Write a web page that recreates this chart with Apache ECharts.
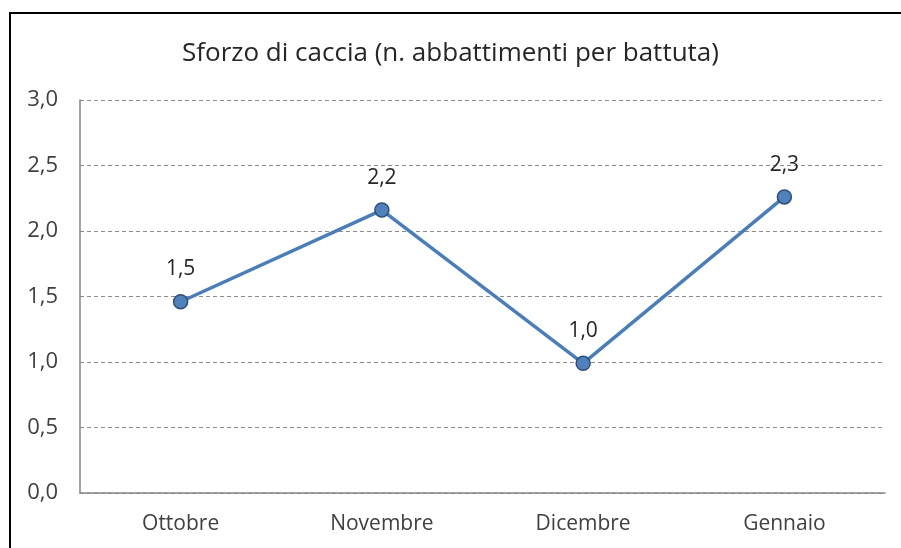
<!DOCTYPE html>
<html>
<head>
<meta charset="utf-8">
<script src="https://cdn.jsdelivr.net/npm/echarts@6/dist/echarts.min.js"></script>
<style>
html,body{margin:0;padding:0;background:#fff;}
#chart{width:901px;height:548px;}
</style>
</head>
<body>
<div id="chart"></div>
<script>
var months = ['Ottobre', 'Novembre', 'Dicembre', 'Gennaio'];
var sforzo = [1.46, 2.16, 0.99, 2.26];
var yTicks = [0, 0.5, 1, 1.5, 2, 2.5, 3];

function virgola(v){
    return v.toFixed(1).replace('.', ',');
}

var chart = echarts.init(document.getElementById('chart'));
chart.setOption({
    animation: false,
    title: {
        text: 'Sforzo di caccia (n. abbattimenti per battuta)',
        left: 'center',
        top: 36,
        textStyle: {
            fontFamily: 'Open Sans',
            fontWeight: 'normal',
            fontSize: 26,
            color: '#262626'
        }
    },
    graphic: [{
        type: 'rect',
        shape: {x: 10, y: 13, width: 1000, height: 1000},
        style: {fill: 'none', stroke: '#000', lineWidth: 2}
    }],
    grid: {
        left: 80,
        right: 16,
        top: 100,
        bottom: 55
    },
    xAxis: {
        type: 'category',
        data: months,
        axisLine: {lineStyle: {color: '#868686', width: 1.5}},
        axisTick: {show: false},
        axisLabel: {
            fontFamily: 'Open Sans',
            fontSize: 21,
            color: '#404040',
            margin: 21
        }
    },
    yAxis: {
        type: 'value',
        min: yTicks[0],
        max: yTicks[yTicks.length - 1],
        interval: 0.5,
        axisLine: {show: true, lineStyle: {color: '#868686', width: 1.5}},
        axisTick: {show: false},
        splitLine: {lineStyle: {color: '#8c8c8c', type: [4, 3], width: 1}},
        axisLabel: {
            fontFamily: 'Open Sans',
            fontSize: 22,
            color: '#404040',
            margin: 22,
            formatter: function(v){ return virgola(v); }
        }
    },
    series: [{
        type: 'line',
        data: sforzo,
        symbol: 'circle',
        symbolSize: 14,
        lineStyle: {color: '#4a7ebb', width: 3.5},
        itemStyle: {color: '#4f81bd', borderColor: '#2f4f78', borderWidth: 1.5},
        label: {
            show: true,
            position: 'top',
            distance: 14,
            fontFamily: 'Open Sans',
            fontSize: 21,
            color: '#262626',
            formatter: function(p){ return virgola(p.value); }
        }
    }]
});
</script>
</body>
</html>
